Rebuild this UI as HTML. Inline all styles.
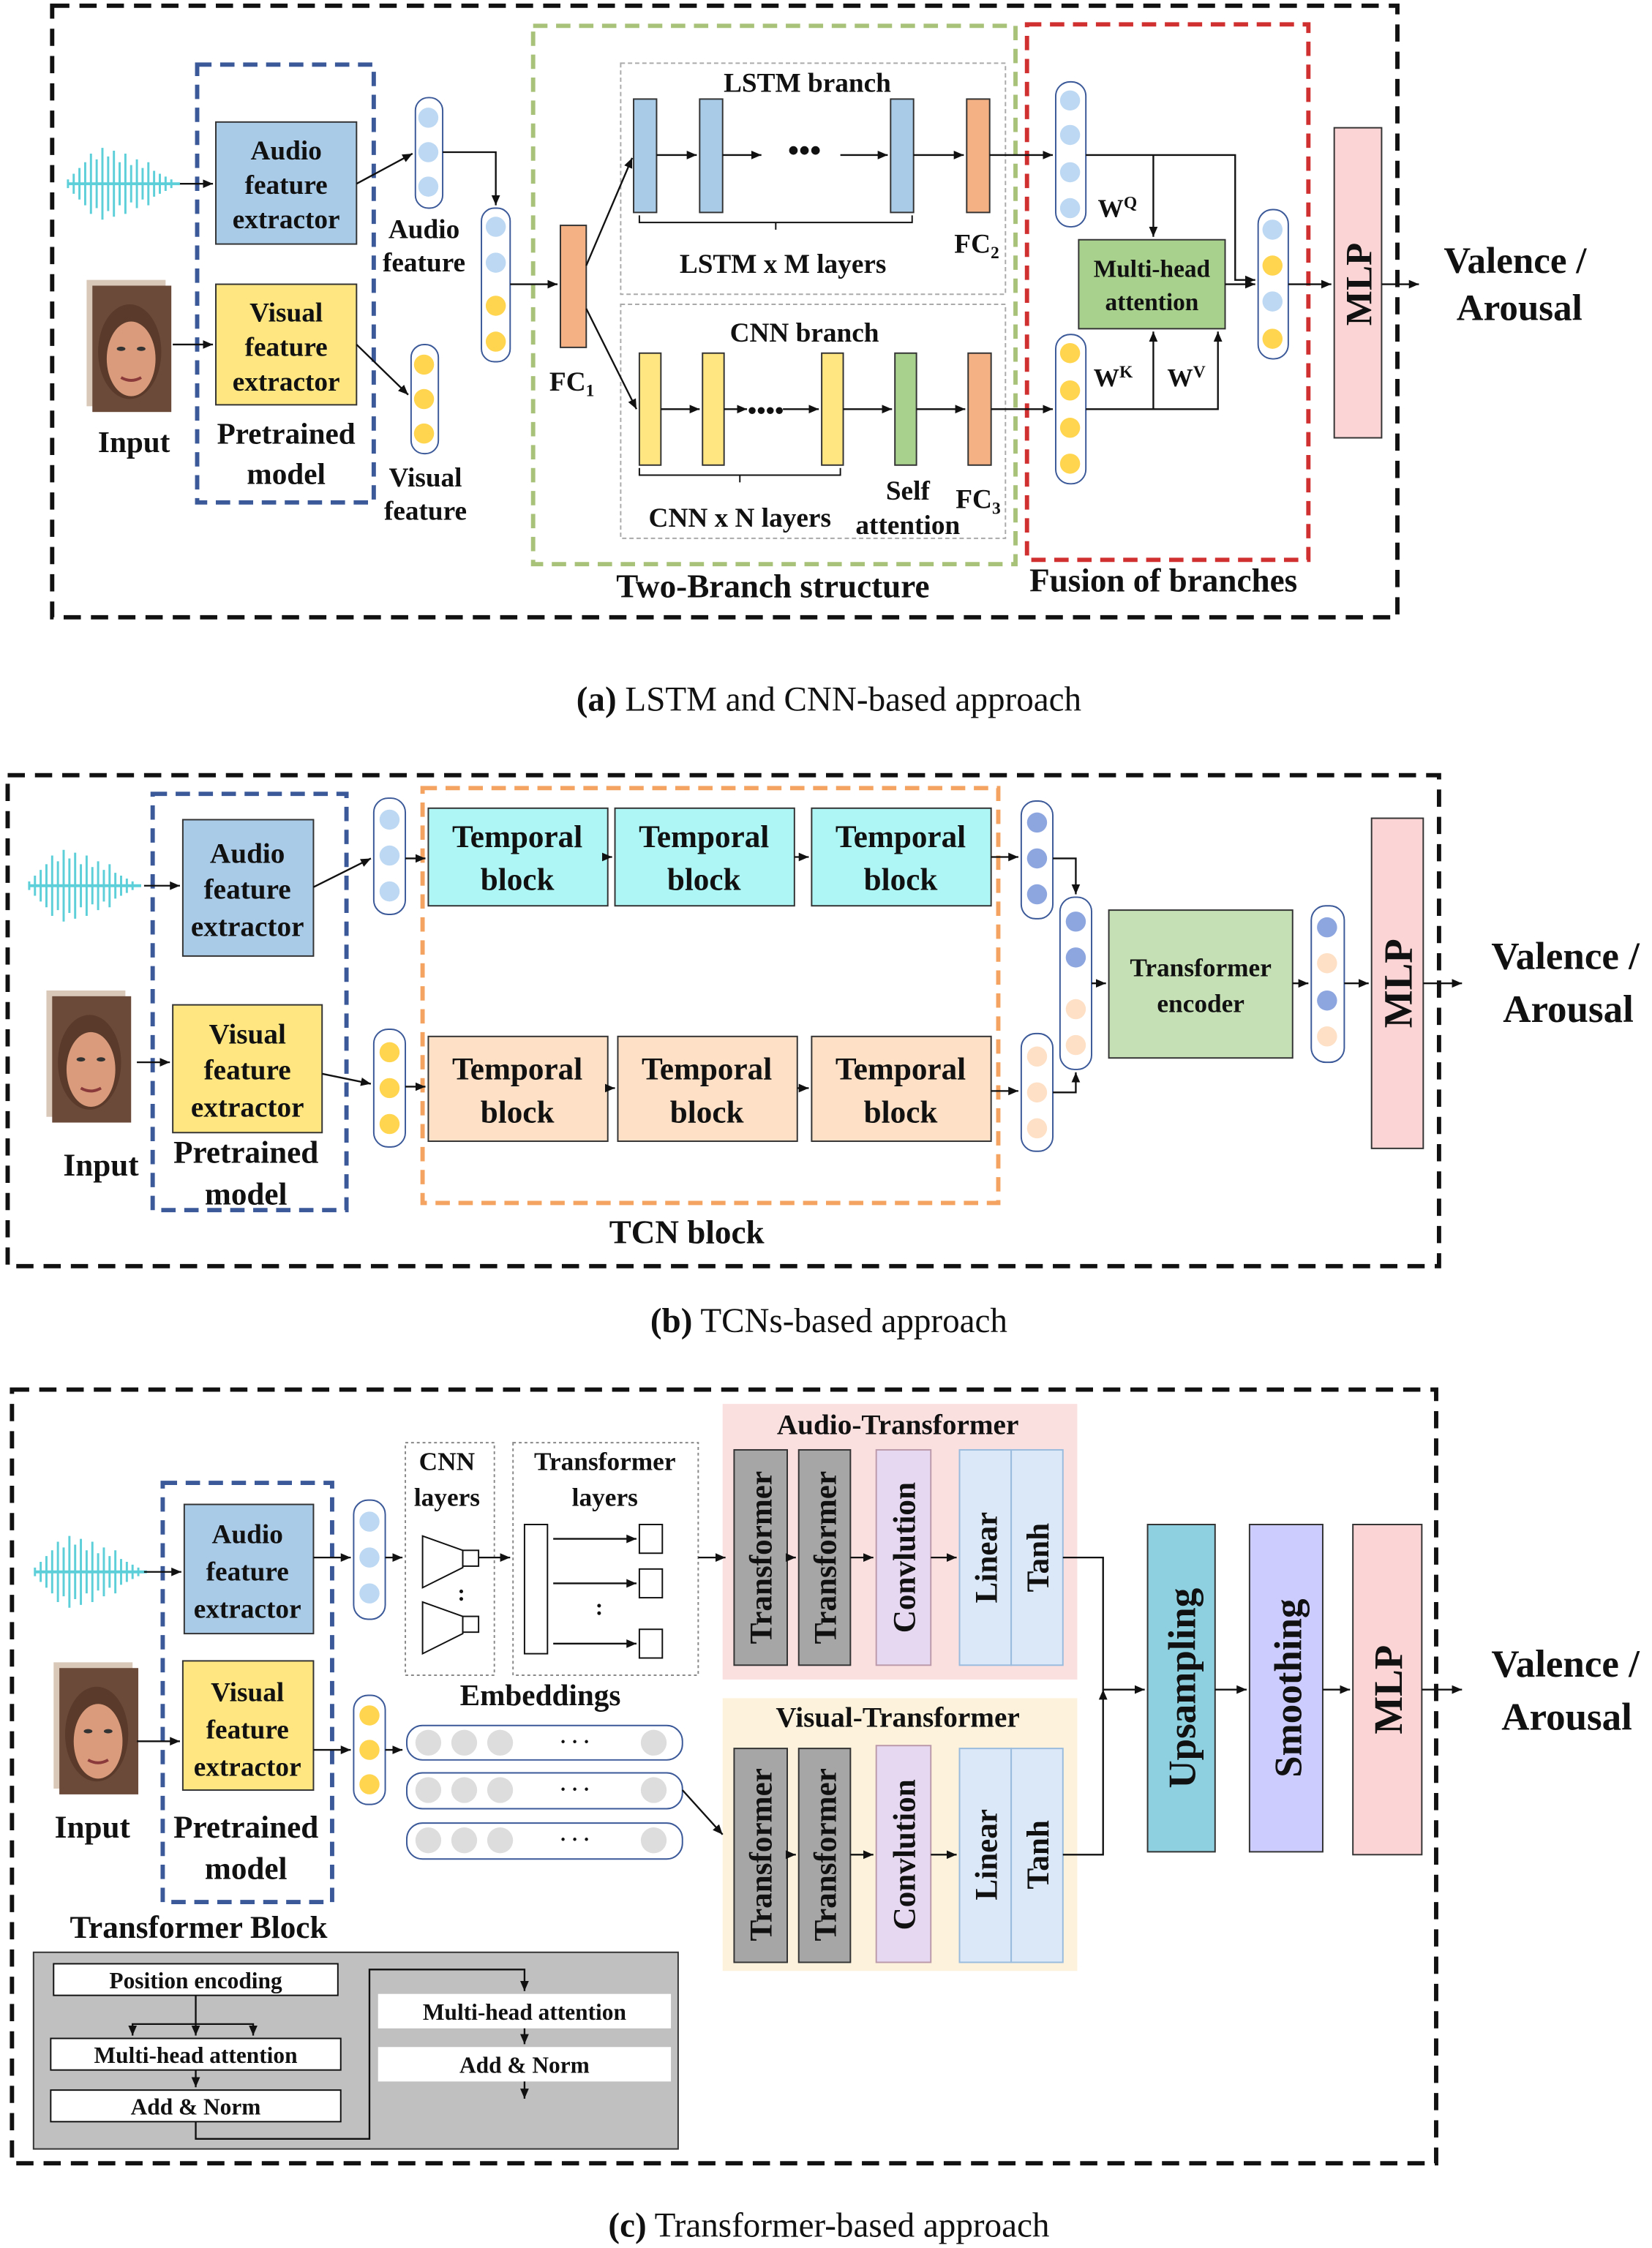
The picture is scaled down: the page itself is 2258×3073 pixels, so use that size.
<!DOCTYPE html>
<html><head><meta charset="utf-8"><style>
html,body{margin:0;padding:0;background:#fff}
svg{display:block}
text{font-family:"Liberation Serif",serif;font-weight:bold;fill:#111}
.cap{font-weight:normal;font-size:24px}
</style></head><body>
<svg width="2258" height="3073" viewBox="0 0 1150 1566" xmlns="http://www.w3.org/2000/svg">
<defs>
<marker id="a" markerWidth="8" markerHeight="8" refX="7" refY="4" orient="auto" markerUnits="userSpaceOnUse"><path d="M0,1 L7,4 L0,7z" fill="#111"/></marker>
<g id="wave"><g stroke="#5ccfd8" stroke-width="1.5">
<path d="M0,22v6M4,18v14M8,14v22M12,10v30M16,4v42M20,8v34M24,0v50M28,6v38M32,2v46M36,10v30M40,4v42M44,12v26M48,8v34M52,14v22M56,10v30M60,16v18M64,18v14M68,20v10M72,22v6"/></g>
<path d="M0,25H78" stroke="#5ccfd8" stroke-width="2"/></g>
<g id="face"><rect x="0" y="0" width="55" height="88" fill="#d9c7b8"/><rect x="4" y="4" width="55" height="88" fill="#6b4a3a"/>
<ellipse cx="30" cy="50" rx="22" ry="33" fill="#5a3a2a"/><ellipse cx="31" cy="55" rx="17" ry="26" fill="#d99b7c"/>
<ellipse cx="24" cy="48" rx="3" ry="1.5" fill="#333"/><ellipse cx="38" cy="48" rx="3" ry="1.5" fill="#333"/><path d="M24,68q7,4 14,0" stroke="#8a3a3a" stroke-width="2" fill="none"/></g>
</defs>
<g fill="none" stroke="#111" stroke-width="1.5">
<!-- (a) -->
<rect x="36" y="4" width="937" height="426" stroke-width="3" stroke-dasharray="12,7"/>
<rect x="137" y="45" width="123" height="305" stroke="#3b5998" stroke-width="3" stroke-dasharray="10,6"/>
<rect x="371" y="18" width="336" height="375" stroke="#a9c27a" stroke-width="3" stroke-dasharray="10,6"/>
<rect x="715" y="17" width="196" height="373" stroke="#d03030" stroke-width="3" stroke-dasharray="10,6"/>
<rect x="432" y="44" width="268" height="161" stroke="#aaa" stroke-width="1" stroke-dasharray="3,2"/>
<rect x="432" y="212" width="268" height="163" stroke="#aaa" stroke-width="1" stroke-dasharray="3,2"/>
</g>
<use href="#wave" x="47" y="103"/>
<use href="#face" x="60" y="195"/>
<g stroke="#333" stroke-width="1">
<rect x="150" y="85" width="98" height="85" fill="#a9cbe8"/>
<rect x="150" y="198" width="98" height="84" fill="#ffe680"/>
<rect x="390" y="157" width="18" height="85" fill="#f4b183"/>
<rect x="441" y="69" width="16" height="79" fill="#a9cbe8"/><rect x="487" y="69" width="16" height="79" fill="#a9cbe8"/><rect x="620" y="69" width="16" height="79" fill="#a9cbe8"/>
<rect x="673" y="69" width="16" height="79" fill="#f4b183"/>
<rect x="445" y="246" width="15" height="78" fill="#ffe680"/><rect x="489" y="246" width="15" height="78" fill="#ffe680"/><rect x="572" y="246" width="15" height="78" fill="#ffe680"/>
<rect x="623" y="246" width="15" height="78" fill="#a9d18e"/><rect x="674" y="246" width="16" height="78" fill="#f4b183"/>
<rect x="751" y="167" width="102" height="62" fill="#a9d18e"/>
<rect x="929" y="89" width="33" height="216" fill="#fbd5d5"/>
</g>
<g stroke="#3b5998" stroke-width="1" fill="#fff">
<rect x="289" y="68" width="19" height="77" rx="9"/><rect x="286" y="240" width="19" height="76" rx="9"/>
<rect x="335" y="145" width="20" height="107" rx="9"/>
<rect x="735" y="57" width="21" height="101" rx="10"/><rect x="735" y="233" width="21" height="104" rx="10"/>
<rect x="876" y="146" width="21" height="104" rx="10"/>
</g>
<g fill="#bcd8f2"><circle cx="298" cy="82" r="7"/><circle cx="298" cy="106" r="7"/><circle cx="298" cy="130" r="7"/>
<circle cx="345" cy="158" r="7"/><circle cx="345" cy="183" r="7"/>
<circle cx="745" cy="70" r="7"/><circle cx="745" cy="94" r="7"/><circle cx="745" cy="120" r="7"/><circle cx="745" cy="145" r="7"/>
<circle cx="886" cy="160" r="7"/><circle cx="886" cy="210" r="7"/></g>
<g fill="#ffd54f"><circle cx="295" cy="254" r="7"/><circle cx="295" cy="278" r="7"/><circle cx="295" cy="302" r="7"/>
<circle cx="345" cy="213" r="7"/><circle cx="345" cy="238" r="7"/>
<circle cx="745" cy="246" r="7"/><circle cx="745" cy="272" r="7"/><circle cx="745" cy="298" r="7"/><circle cx="745" cy="323" r="7"/>
<circle cx="886" cy="185" r="7"/><circle cx="886" cy="236" r="7"/></g>
<g stroke="#111" stroke-width="1.2" fill="none" marker-end="url(#a)">
<path d="M125,128H148"/><path d="M120,240H148"/>
<path d="M248,128L287,107"/><path d="M248,240L284,275"/>
<path d="M308,106H345V143"/><path d="M355,198H388"/>
<path d="M408,185L440,110"/><path d="M408,215L443,285"/>
<path d="M457,108H485"/><path d="M503,108H530"/><path d="M585,108H618"/><path d="M636,108H671"/><path d="M689,108H733"/>
<path d="M460,285H487"/><path d="M504,285H520"/><path d="M545,285H570"/><path d="M587,285H621"/><path d="M638,285H672"/><path d="M690,285H733"/>
<path d="M756,108H860V195H874"/><path d="M803,108V165"/>
<path d="M756,285H848V231"/><path d="M803,285V231"/>
<path d="M853,198H874"/><path d="M897,198H927"/><path d="M962,198H988"/>
</g>
<path d="M445,150v5h95v5m0-5h95v-5M445,326v5h70v5m0-5h70v-5" stroke="#111" fill="none" stroke-width="1"/>
<g font-size="19" text-anchor="middle">
<text x="199" y="111">Audio</text><text x="199" y="135">feature</text><text x="199" y="159">extractor</text>
<text x="199" y="224">Visual</text><text x="199" y="248">feature</text><text x="199" y="272">extractor</text>
<text x="199" y="309" font-size="21">Pretrained</text><text x="199" y="337" font-size="21">model</text>
<text x="93" y="315" font-size="21">Input</text>
<text x="295" y="166">Audio</text><text x="295" y="189">feature</text>
<text x="296" y="339">Visual</text><text x="296" y="362">feature</text>
<text x="398" y="272">FC<tspan font-size="12" dy="4">1</tspan></text>
<text x="562" y="64">LSTM branch</text><text x="560" y="112" font-size="22">•••</text>
<text x="545" y="190">LSTM x M layers</text><text x="680" y="176">FC<tspan font-size="12" dy="4">2</tspan></text>
<text x="560" y="238">CNN branch</text><text x="533" y="292" font-size="18">••••</text>
<text x="515" y="367">CNN x N layers</text><text x="632" y="348">Self</text><text x="632" y="372">attention</text>
<text x="681" y="354">FC<tspan font-size="12" dy="4">3</tspan></text>
<text x="778" y="151" font-size="18">W<tspan font-size="12" dy="-6">Q</tspan></text>
<text x="775" y="269" font-size="18">W<tspan font-size="12" dy="-6">K</tspan></text>
<text x="826" y="269" font-size="18">W<tspan font-size="12" dy="-6">V</tspan></text>
<text x="802" y="193" font-size="17">Multi-head</text><text x="802" y="216" font-size="17">attention</text>
<text x="538" y="416" font-size="23">Two-Branch structure</text><text x="810" y="412" font-size="23">Fusion of branches</text>
<text x="1055" y="190" font-size="26">Valence /</text><text x="1058" y="223" font-size="26">Arousal</text>
<text transform="translate(955,198) rotate(-90)" font-size="26">MLP</text>
</g>
<text x="577" y="495" class="cap" text-anchor="middle"><tspan font-weight="bold">(a)</tspan> LSTM and CNN-based approach</text>

<!-- (b) -->
<g fill="none" stroke-width="3">
<rect x="5" y="540" width="997" height="342" stroke="#111" stroke-dasharray="12,7"/>
<rect x="106" y="553" width="135" height="290" stroke="#3b5998" stroke-dasharray="10,6"/>
<rect x="294" y="549" width="401" height="289" stroke="#f4a460" stroke-dasharray="10,6"/>
</g>
<use href="#wave" x="20" y="592"/>
<use href="#face" x="32" y="690"/>
<g stroke="#333" stroke-width="1">
<rect x="127" y="571" width="91" height="95" fill="#a9cbe8"/>
<rect x="120" y="700" width="104" height="89" fill="#ffe680"/>
<rect x="298" y="563" width="125" height="68" fill="#aef6f6"/><rect x="428" y="563" width="125" height="68" fill="#aef6f6"/><rect x="565" y="563" width="125" height="68" fill="#aef6f6"/>
<rect x="298" y="722" width="125" height="73" fill="#fde0c5"/><rect x="430" y="722" width="125" height="73" fill="#fde0c5"/><rect x="565" y="722" width="125" height="73" fill="#fde0c5"/>
<rect x="772" y="634" width="128" height="103" fill="#c5e0b4"/>
<rect x="955" y="570" width="36" height="230" fill="#fbd5d5"/>
</g>
<g stroke="#3b5998" stroke-width="1" fill="#fff">
<rect x="260" y="556" width="22" height="81" rx="10"/><rect x="260" y="717" width="22" height="82" rx="10"/>
<rect x="711" y="558" width="22" height="82" rx="10"/><rect x="711" y="720" width="22" height="82" rx="10"/>
<rect x="738" y="625" width="22" height="120" rx="10"/><rect x="913" y="631" width="23" height="109" rx="10"/>
</g>
<g fill="#bcd8f2"><circle cx="271" cy="571" r="7"/><circle cx="271" cy="596" r="7"/><circle cx="271" cy="621" r="7"/></g>
<g fill="#ffd54f"><circle cx="271" cy="733" r="7"/><circle cx="271" cy="758" r="7"/><circle cx="271" cy="783" r="7"/></g>
<g fill="#8ea6df"><circle cx="722" cy="573" r="7"/><circle cx="722" cy="598" r="7"/><circle cx="722" cy="623" r="7"/><circle cx="749" cy="642" r="7"/><circle cx="749" cy="667" r="7"/><circle cx="924" cy="646" r="7"/><circle cx="924" cy="697" r="7"/></g>
<g fill="#fde0c5"><circle cx="722" cy="736" r="7"/><circle cx="722" cy="761" r="7"/><circle cx="722" cy="786" r="7"/><circle cx="749" cy="703" r="7"/><circle cx="749" cy="728" r="7"/><circle cx="924" cy="671" r="7"/><circle cx="924" cy="722" r="7"/></g>
<g stroke="#111" stroke-width="1.2" fill="none" marker-end="url(#a)">
<path d="M100,617H125"/><path d="M95,740H118"/>
<path d="M218,618L258,598"/><path d="M224,748L258,755"/>
<path d="M282,598H296"/><path d="M282,757H296"/>
<path d="M423,597H426"/><path d="M553,597H563"/><path d="M690,597H709"/>
<path d="M423,758H428"/><path d="M555,758H563"/><path d="M690,760H709"/>
<path d="M733,598H749V623"/><path d="M733,761H749V747"/>
<path d="M760,685H770"/><path d="M900,685H911"/><path d="M936,685H953"/><path d="M991,685H1018"/>
</g>
<g font-size="20" text-anchor="middle">
<text x="172" y="601">Audio</text><text x="172" y="626">feature</text><text x="172" y="652">extractor</text>
<text x="172" y="727">Visual</text><text x="172" y="752">feature</text><text x="172" y="778">extractor</text>
<text x="171" y="810" font-size="22">Pretrained</text><text x="171" y="839" font-size="22">model</text>
<text x="70" y="819" font-size="22">Input</text>
<g font-size="22"><text x="360" y="590">Temporal</text><text x="360" y="620">block</text><text x="490" y="590">Temporal</text><text x="490" y="620">block</text><text x="627" y="590">Temporal</text><text x="627" y="620">block</text>
<text x="360" y="752">Temporal</text><text x="360" y="782">block</text><text x="492" y="752">Temporal</text><text x="492" y="782">block</text><text x="627" y="752">Temporal</text><text x="627" y="782">block</text></g>
<text x="836" y="680" font-size="18">Transformer</text><text x="836" y="705" font-size="18">encoder</text>
<text x="478" y="866" font-size="23">TCN block</text>
<text x="1090" y="675" font-size="27">Valence /</text><text x="1092" y="712" font-size="27">Arousal</text>
<text transform="translate(983,685) rotate(-90)" font-size="28">MLP</text>
</g>
<text x="577" y="928" class="cap" text-anchor="middle"><tspan font-weight="bold">(b)</tspan> TCNs-based approach</text>

<!-- (c) -->
<g fill="none" stroke-width="3">
<rect x="8" y="968" width="992" height="539" stroke="#111" stroke-dasharray="12,7"/>
<rect x="113" y="1033" width="118" height="292" stroke="#3b5998" stroke-dasharray="10,6"/>
</g>
<use href="#wave" x="24" y="1070"/>
<use href="#face" x="37" y="1158"/>
<rect x="503" y="978" width="247" height="192" fill="#fbe0e0"/>
<rect x="503" y="1183" width="247" height="190" fill="#fdf3dc"/>
<g stroke="#333" stroke-width="1">
<rect x="128" y="1048" width="90" height="90" fill="#a9cbe8"/>
<rect x="127" y="1157" width="91" height="90" fill="#ffe680"/>
<rect x="511" y="1010" width="37" height="150" fill="#a6a6a6"/><rect x="556" y="1010" width="36" height="150" fill="#a6a6a6"/>
<rect x="610" y="1010" width="38" height="150" fill="#e6d8f0" stroke="#b9a"/><rect x="668" y="1010" width="36" height="150" fill="#dbe8f8" stroke="#9bd"/><rect x="704" y="1010" width="36" height="150" fill="#dbe8f8" stroke="#9bd"/>
<rect x="511" y="1218" width="37" height="149" fill="#a6a6a6"/><rect x="556" y="1218" width="36" height="149" fill="#a6a6a6"/>
<rect x="610" y="1216" width="38" height="151" fill="#e6d8f0" stroke="#b9a"/><rect x="668" y="1218" width="36" height="149" fill="#dbe8f8" stroke="#9bd"/><rect x="704" y="1218" width="36" height="149" fill="#dbe8f8" stroke="#9bd"/>
<rect x="799" y="1062" width="47" height="228" fill="#8ecfe0"/><rect x="870" y="1062" width="51" height="228" fill="#ccccff"/><rect x="942" y="1062" width="48" height="230" fill="#fbd5d5"/>
<rect x="23" y="1360" width="449" height="137" fill="#c0c0c0"/>
</g>
<g fill="none" stroke="#888" stroke-width="1" stroke-dasharray="2,2"><rect x="282" y="1005" width="62" height="162"/><rect x="357" y="1005" width="129" height="162"/></g>
<g stroke="#3b5998" stroke-width="1" fill="#fff">
<rect x="246" y="1045" width="22" height="83" rx="10"/><rect x="246" y="1181" width="22" height="76" rx="10"/>
</g>
<g stroke="#3b5998" stroke-width="1" fill="#fff"><rect x="283" y="1202" width="192" height="24" rx="11"/><rect x="283" y="1235" width="192" height="25" rx="11"/><rect x="283" y="1270" width="192" height="25" rx="11"/></g>
<g fill="#ddd"><circle cx="298" cy="1214" r="9"/><circle cx="323" cy="1214" r="9"/><circle cx="348" cy="1214" r="9"/><circle cx="455" cy="1214" r="9"/>
<circle cx="298" cy="1247" r="9"/><circle cx="323" cy="1247" r="9"/><circle cx="348" cy="1247" r="9"/><circle cx="455" cy="1247" r="9"/>
<circle cx="298" cy="1282" r="9"/><circle cx="323" cy="1282" r="9"/><circle cx="348" cy="1282" r="9"/><circle cx="455" cy="1282" r="9"/></g>
<g font-size="14" text-anchor="middle"><text x="400" y="1218">·   ·   ·</text><text x="400" y="1251">·   ·   ·</text><text x="400" y="1286">·   ·   ·</text></g>
<g fill="#bcd8f2"><circle cx="257" cy="1060" r="7"/><circle cx="257" cy="1085" r="7"/><circle cx="257" cy="1110" r="7"/></g>
<g fill="#ffd54f"><circle cx="257" cy="1195" r="7"/><circle cx="257" cy="1219" r="7"/><circle cx="257" cy="1243" r="7"/></g>
<g stroke="#111" stroke-width="1" fill="#fff">
<path d="M294,1070L322,1080V1092L294,1106z"/><path d="M294,1116L322,1126V1138L294,1152z"/>
<rect x="322" y="1080" width="11" height="11"/><rect x="322" y="1126" width="11" height="11"/>
<rect x="365" y="1062" width="16" height="90"/>
<rect x="445" y="1062" width="16" height="20"/><rect x="445" y="1093" width="16" height="20"/><rect x="445" y="1135" width="16" height="20"/>
<rect x="37" y="1368" width="198" height="22"/><rect x="35" y="1420" width="202" height="22"/><rect x="35" y="1456" width="202" height="22"/>
<rect x="263" y="1389" width="204" height="24" stroke="none"/><rect x="263" y="1426" width="204" height="24" stroke="none"/>
</g>
<g stroke="#111" stroke-width="1.2" fill="none" marker-end="url(#a)">
<path d="M100,1095H126"/><path d="M95,1213H125"/>
<path d="M218,1085H244"/><path d="M218,1219H244"/>
<path d="M268,1085H280"/><path d="M268,1219H280"/>
<path d="M333,1085H355"/><path d="M385,1072H443"/><path d="M385,1103H443"/><path d="M385,1145H443"/>
<path d="M486,1085H505"/><path d="M475,1247L503,1278"/>
<path d="M548,1085H554"/><path d="M592,1085H608"/><path d="M648,1085H666"/>
<path d="M548,1292H554"/><path d="M592,1292H608"/><path d="M648,1292H666"/>
<path d="M740,1085H768V1177H797"/><path d="M740,1292H768V1177"/>
<path d="M846,1177H868"/><path d="M921,1177H940"/><path d="M990,1177H1018"/>
<path d="M136,1390V1410H92V1418"/><path d="M136,1410V1418"/><path d="M136,1410H176V1418"/>
<path d="M136,1442V1454"/><path d="M136,1478V1490H257V1372H365V1387"/>
<path d="M365,1413V1424"/><path d="M365,1450V1462"/>
</g>
<g text-anchor="middle" font-size="19">
<text x="172" y="1075">Audio</text><text x="172" y="1101">feature</text><text x="172" y="1127">extractor</text>
<text x="172" y="1185">Visual</text><text x="172" y="1211">feature</text><text x="172" y="1237">extractor</text>
<text x="171" y="1280" font-size="22">Pretrained</text><text x="171" y="1309" font-size="22">model</text>
<text x="64" y="1280" font-size="22">Input</text>
<text x="311" y="1024" font-size="18">CNN</text><text x="311" y="1049" font-size="18">layers</text>
<text x="421" y="1024" font-size="18">Transformer</text><text x="421" y="1049" font-size="18">layers</text>
<text x="321" y="1115" font-size="16">:</text><text x="417" y="1125" font-size="16">:</text>
<text x="376" y="1188" font-size="21">Embeddings</text>
<text x="625" y="999" font-size="20">Audio-Transformer</text><text x="625" y="1203" font-size="20">Visual-Transformer</text>
<text x="138" y="1350" font-size="22">Transformer Block</text>
<g font-size="16"><text x="136" y="1385">Position encoding</text><text x="136" y="1437">Multi-head attention</text><text x="136" y="1473">Add &amp; Norm</text>
<text x="365" y="1407">Multi-head attention</text><text x="365" y="1444">Add &amp; Norm</text></g>
<g font-size="22">
<text transform="translate(537,1085) rotate(-90)">Transformer</text><text transform="translate(582,1085) rotate(-90)">Transformer</text>
<text transform="translate(637,1085) rotate(-90)">Convlution</text><text transform="translate(694,1085) rotate(-90)">Linear</text><text transform="translate(730,1085) rotate(-90)">Tanh</text>
<text transform="translate(537,1292) rotate(-90)">Transformer</text><text transform="translate(582,1292) rotate(-90)">Transformer</text>
<text transform="translate(637,1292) rotate(-90)">Convlution</text><text transform="translate(694,1292) rotate(-90)">Linear</text><text transform="translate(730,1292) rotate(-90)">Tanh</text>
</g>
<text transform="translate(832,1176) rotate(-90)" font-size="27">Upsampling</text>
<text transform="translate(906,1176) rotate(-90)" font-size="27">Smoothing</text>
<text transform="translate(976,1177) rotate(-90)" font-size="28">MLP</text>
<text x="1090" y="1168" font-size="27">Valence /</text><text x="1091" y="1205" font-size="27">Arousal</text>
</g>
<text x="577" y="1558" class="cap" text-anchor="middle"><tspan font-weight="bold">(c)</tspan> Transformer-based approach</text>
</svg>
</body></html>
